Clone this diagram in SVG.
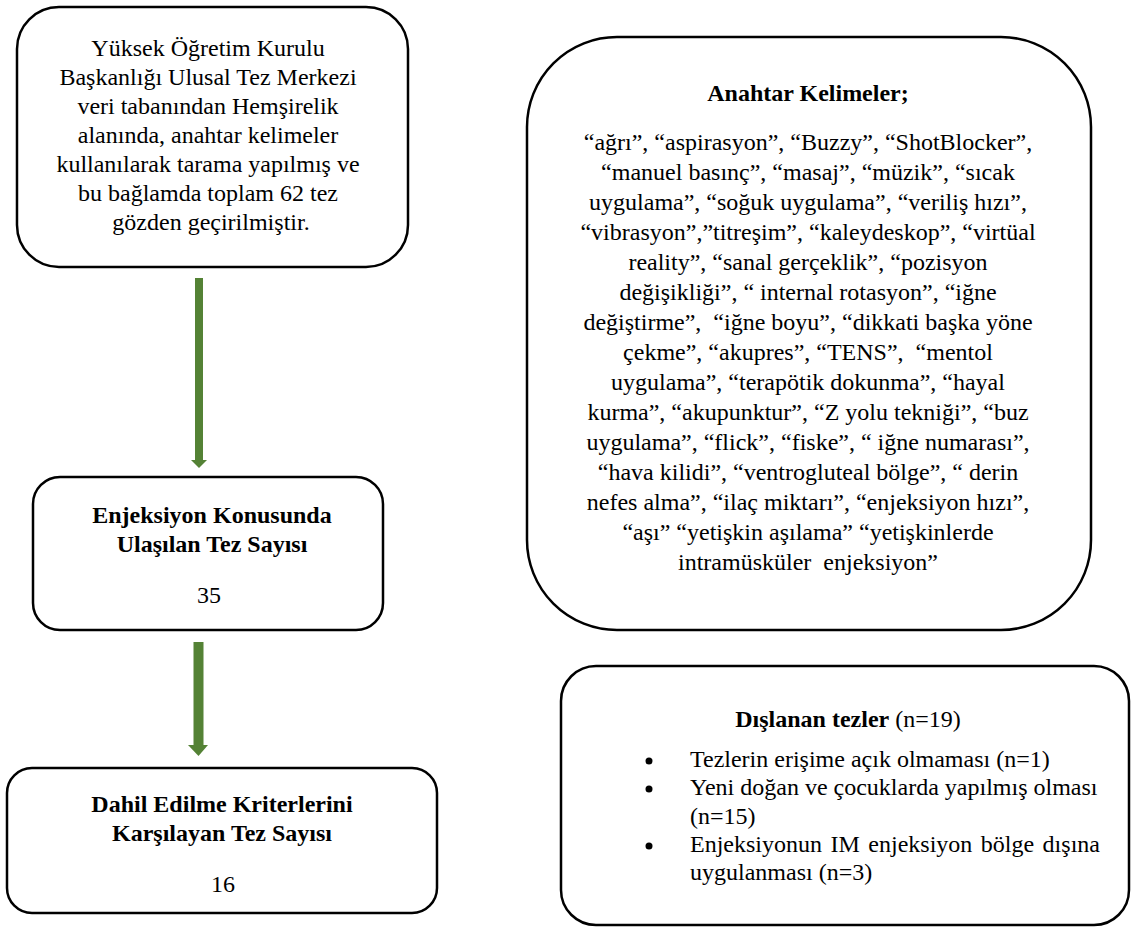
<svg xmlns="http://www.w3.org/2000/svg" width="1131" height="927" viewBox="0 0 1131 927">
<style>
.box{fill:#fff;stroke:#000;stroke-width:2.5}
text{font-family:'Liberation Serif','DejaVu Serif',serif;font-size:24px;fill:#000}
.c{text-anchor:middle}
.b{font-weight:bold}
.arr{fill:#548235}
</style>
<rect width="1131" height="927" fill="#fff"/>
<g id="connectors">
  <rect class="arr" x="195" y="278" width="8" height="183"/>
  <polygon class="arr" points="191,460 207,460 199,468"/>
  <rect class="arr" x="193.5" y="642" width="10" height="104"/>
  <polygon class="arr" points="188,745 208,745 198.5,756"/>
</g>
<g id="node-search">
  <rect class="box" x="17" y="7" width="391" height="260" rx="42" ry="42"/>
  <text class="c" font-family="Liberation Serif, serif">
    <tspan x="211" y="56">Yüksek Öğretim Kurulu</tspan>
    <tspan x="211" y="85">Başkanlığı Ulusal Tez Merkezi</tspan>
    <tspan x="211" y="114">veri tabanından Hemşirelik</tspan>
    <tspan x="211" y="143">alanında, anahtar kelimeler</tspan>
    <tspan x="211" y="172">kullanılarak tarama yapılmış ve</tspan>
    <tspan x="211" y="201">bu bağlamda toplam 62 tez</tspan>
    <tspan x="211" y="230">gözden geçirilmiştir.</tspan>
  </text>
</g>
<g id="node-reached">
  <rect class="box" x="33" y="477" width="350" height="153" rx="27" ry="27"/>
  <text class="c b" font-family="Liberation Serif, serif" x="212" y="523">Enjeksiyon Konusunda</text>
  <text class="c b" font-family="Liberation Serif, serif" x="212" y="552">Ulaşılan Tez Sayısı</text>
  <text class="c" font-family="Liberation Serif, serif" x="209" y="603">35</text>
</g>
<g id="node-included">
  <rect class="box" x="7" y="768" width="430" height="145" rx="25" ry="25"/>
  <text class="c b" font-family="Liberation Serif, serif" x="222" y="812">Dahil Edilme Kriterlerini</text>
  <text class="c b" font-family="Liberation Serif, serif" x="222" y="841">Karşılayan Tez Sayısı</text>
  <text class="c" font-family="Liberation Serif, serif" x="223" y="892">16</text>
</g>
<g id="node-keywords">
  <rect class="box" x="527" y="37" width="564" height="593" rx="90" ry="90"/>
  <text class="c b" font-family="Liberation Serif, serif" x="808" y="101">Anahtar Kelimeler;</text>
  <text class="c" font-family="Liberation Serif, serif" xml:space="preserve" style="white-space:pre"><tspan x="808" y="150">“ağrı”, “aspirasyon”, “Buzzy”, “ShotBlocker”,</tspan><tspan x="808" y="180">“manuel basınç”, “masaj”, “müzik”, “sıcak</tspan><tspan x="808" y="210">uygulama”, “soğuk uygulama”, “veriliş hızı”,</tspan><tspan x="808" y="240">“vibrasyon”,”titreşim”, “kaleydeskop”, “virtüal</tspan><tspan x="808" y="270">reality”, “sanal gerçeklik”, “pozisyon</tspan><tspan x="808" y="300">değişikliği”, “ internal rotasyon”, “iğne</tspan><tspan x="808" y="330">değiştirme”,  “iğne boyu”, “dikkati başka yöne</tspan><tspan x="808" y="360">çekme”, “akupres”, “TENS”,  “mentol</tspan><tspan x="808" y="390">uygulama”, “terapötik dokunma”, “hayal</tspan><tspan x="808" y="420">kurma”, “akupunktur”, “Z yolu tekniği”, “buz</tspan><tspan x="808" y="450">uygulama”, “flick”, “fiske”, “ iğne numarası”,</tspan><tspan x="808" y="480">“hava kilidi”, “ventrogluteal bölge”, “ derin</tspan><tspan x="808" y="510">nefes alma”, “ilaç miktarı”, “enjeksiyon hızı”,</tspan><tspan x="808" y="540">“aşı” “yetişkin aşılama” “yetişkinlerde</tspan><tspan x="808" y="570">intramüsküler  enjeksiyon”</tspan></text>
</g>
<g id="node-excluded">
  <rect class="box" x="561" y="666" width="568" height="259" rx="35" ry="35"/>
  <text class="c" font-family="Liberation Serif, serif" x="848" y="727"><tspan class="b">Dışlanan tezler</tspan> (n=19)</text>
  <circle cx="649" cy="761" r="3.5"/>
  <circle cx="649" cy="789" r="3.5"/>
  <circle cx="649" cy="846" r="3.5"/>
  <text font-family="Liberation Serif, serif" x="690" y="767">Tezlerin erişime açık olmaması (n=1)</text>
  <text font-family="Liberation Serif, serif" x="690" y="795">Yeni doğan ve çocuklarda yapılmış olması</text>
  <text font-family="Liberation Serif, serif" x="690" y="824">(n=15)</text>
  <text font-family="Liberation Serif, serif" x="690" y="852" word-spacing="2.5">Enjeksiyonun IM enjeksiyon bölge dışına</text>
  <text font-family="Liberation Serif, serif" x="690" y="880">uygulanması (n=3)</text>
</g>
</svg>
